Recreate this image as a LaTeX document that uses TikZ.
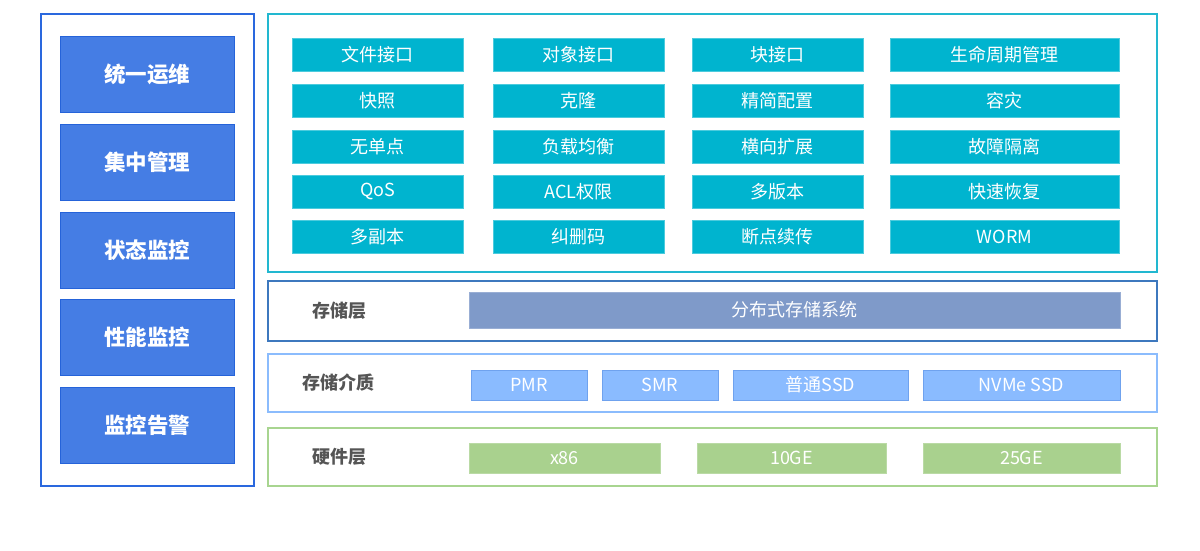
\documentclass[tikz,border=0pt]{standalone}
\usepackage{fontspec}
\setmainfont{Noto Sans CJK SC}
\definecolor{leftborder}{HTML}{2A68DE}
\definecolor{leftfill}{HTML}{457DE4}
\definecolor{leftedge}{HTML}{2563D9}
\definecolor{cyanborder}{HTML}{22B8D0}
\definecolor{cyanfill}{HTML}{00B4CF}
\definecolor{storborder}{HTML}{3D78BE}
\definecolor{storfill}{HTML}{7F9AC9}
\definecolor{medborder}{HTML}{8BBCFD}
\definecolor{medfill}{HTML}{8ABBFF}
\definecolor{mededge}{HTML}{6FA2EE}
\definecolor{hwborder}{HTML}{A8D590}
\definecolor{hwfill}{HTML}{A9D18E}
\definecolor{labelgray}{HTML}{555555}
\tikzset{
  panel/.style={draw, line width=1.5pt, fill=white, anchor=north west, outer sep=0pt, inner sep=0pt},
  leftbox/.style={draw=leftedge, line width=1pt, fill=leftfill, text=white, font=\fontsize{21.5}{24}\selectfont\bfseries, anchor=north west, outer sep=0pt, minimum width=174, minimum height=76},
  featbox/.style={fill=cyanfill, draw=cyanfill!70!white, line width=0.6pt, text=white, font=\fontsize{18}{20}\selectfont, anchor=north west, outer sep=0pt, minimum height=33},
  layerlabel/.style={text=labelgray, font=\fontsize{18}{20}\selectfont\bfseries},
  storbox/.style={fill=storfill, draw=storfill!80!white, line width=0.6pt, text=white, font=\fontsize{18}{20}\selectfont, anchor=north west, outer sep=0pt, minimum height=36},
  medbox/.style={fill=medfill, draw=mededge, line width=0.8pt, text=white, font=\fontsize{18}{20}\selectfont, anchor=north west, outer sep=0pt, minimum height=30},
  hwbox/.style={fill=hwfill, draw=hwfill!80!white, line width=0.6pt, text=white, font=\fontsize{18}{20}\selectfont, anchor=north west, outer sep=0pt, minimum height=30},
}
\begin{document}
\begin{tikzpicture}[x=1pt,y=-1pt]
\useasboundingbox[fill=white] (0,0) rectangle (1200,550);
% left panel
\node[panel, draw=leftborder, minimum width=213, minimum height=472] (leftpanel) at (41,14) {};
\node[leftbox] (l1) at (60,36) {统一运维};
\node[leftbox] (l2) at (60,124) {集中管理};
\node[leftbox] (l3) at (60,212) {状态监控};
\node[leftbox] (l4) at (60,299) {性能监控};
\node[leftbox] (l5) at (60,387) {监控告警};
% feature panel
\node[panel, draw=cyanborder, minimum width=889, minimum height=258] (featpanel) at (268,14) {};
\node[featbox, minimum width=171] (f11) at (292,38) {文件接口};
\node[featbox, minimum width=171] (f12) at (493,38) {对象接口};
\node[featbox, minimum width=171] (f13) at (692,38) {块接口};
\node[featbox, minimum width=229] (f14) at (890,38) {生命周期管理};
\node[featbox, minimum width=171] (f21) at (292,84) {快照};
\node[featbox, minimum width=171] (f22) at (493,84) {克隆};
\node[featbox, minimum width=171] (f23) at (692,84) {精简配置};
\node[featbox, minimum width=229] (f24) at (890,84) {容灾};
\node[featbox, minimum width=171] (f31) at (292,130) {无单点};
\node[featbox, minimum width=171] (f32) at (493,130) {负载均衡};
\node[featbox, minimum width=171] (f33) at (692,130) {横向扩展};
\node[featbox, minimum width=229] (f34) at (890,130) {故障隔离};
\node[featbox, minimum width=171] (f41) at (292,175) {QoS};
\node[featbox, minimum width=171] (f42) at (493,175) {ACL权限};
\node[featbox, minimum width=171] (f43) at (692,175) {多版本};
\node[featbox, minimum width=229] (f44) at (890,175) {快速恢复};
\node[featbox, minimum width=171] (f51) at (292,220) {多副本};
\node[featbox, minimum width=171] (f52) at (493,220) {纠删码};
\node[featbox, minimum width=171] (f53) at (692,220) {断点续传};
\node[featbox, minimum width=229] (f54) at (890,220) {WORM};
% storage layer
\node[panel, draw=storborder, minimum width=889, minimum height=60] (storpanel) at (268,281) {};
\node[layerlabel] (storlabel) at (339,311) {存储层};
\node[storbox, minimum width=651] (dss) at (469,292) {分布式存储系统};
% media
\node[panel, draw=medborder, minimum width=889, minimum height=58] (medpanel) at (268,354) {};
\node[layerlabel] (medlabel) at (338,383) {存储介质};
\node[medbox, minimum width=116] (pmr) at (471,370) {PMR};
\node[medbox, minimum width=116] (smr) at (602,370) {SMR};
\node[medbox, minimum width=175] (ssd) at (733,370) {普通SSD};
\node[medbox, minimum width=197] (nvme) at (923,370) {NVMe SSD};
% hardware
\node[panel, draw=hwborder, minimum width=889, minimum height=58] (hwpanel) at (268,428) {};
\node[layerlabel] (hwlabel) at (339,457) {硬件层};
\node[hwbox, minimum width=191] (x86) at (469,443) {x86};
\node[hwbox, minimum width=189] (g10) at (697,443) {10GE};
\node[hwbox, minimum width=197] (g25) at (923,443) {25GE};
\end{tikzpicture}
\end{document}
